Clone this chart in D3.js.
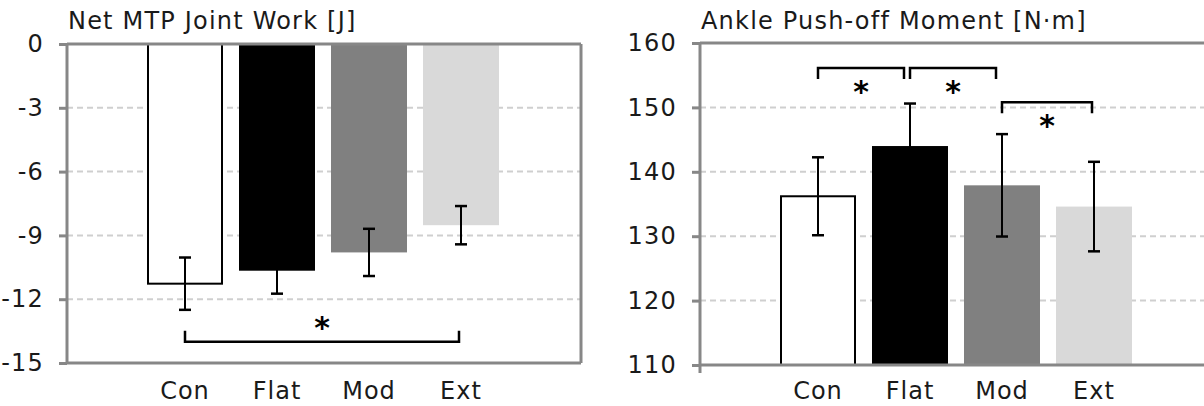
<!DOCTYPE html>
<html><head><meta charset="utf-8">
<script src="https://cdn.jsdelivr.net/npm/d3@7"></script>
<style>
html,body{margin:0;padding:0;background:#fff;}
svg{display:block;font-family:"DejaVu Sans",sans-serif;}
</style></head>
<body>
<svg id="chart" width="1204" height="406"></svg>
<script>
// ---- data ----
const categories = ["Con", "Flat", "Mod", "Ext"];
const barColors = ["#ffffff", "#000000", "#808080", "#d9d9d9"];

const workTitle = "Net MTP Joint Work [J]";
const workMeans = [-11.27, -10.66, -9.80, -8.52];
const workSD = [1.23, 1.08, 1.11, 0.90];
const workTicks = [0, -3, -6, -9, -12, -15];
const workSig = [["Con", "Ext", -14.0]];

const ankleTitle = "Ankle Push-off Moment [N·m]";
const ankleMeans = [136.2, 144.0, 137.9, 134.6];
const ankleSD = [6.05, 6.6, 7.95, 6.95];
const ankleTicks = [110, 120, 130, 140, 150, 160];
const ankleSig = [["Con", "Flat", 156.1], ["Flat", "Mod", 156.1], ["Mod", "Ext", 150.8]];

const svg = d3.select("#chart");
const frameColor = "#878787";
const textColor = "#1a1a1a";

function panel(cfg) {
  const g = svg.append("g");
  const y = d3.scaleLinear().domain(cfg.domain).range([cfg.bottom, cfg.top]);
  const x = d3.scaleBand().domain(categories)
    .range([cfg.left + 72, cfg.left + 72 + 92 * categories.length])
    .paddingInner(16 / 92).paddingOuter(8 / 92);

  // gridlines
  g.selectAll(".grid").data(cfg.ticks.filter(t => t !== cfg.domain[0] && t !== cfg.domain[1]))
    .join("line")
    .attr("x1", cfg.left).attr("x2", cfg.right)
    .attr("y1", d => y(d)).attr("y2", d => y(d))
    .attr("stroke", "#cfcfcf").attr("stroke-width", 2).attr("stroke-dasharray", "6,4");

  // bars
  const data = categories.map((c, i) => ({c, m: cfg.means[i], s: cfg.sd[i], col: barColors[i]}));
  const base = cfg.baseline;
  g.selectAll(".bar").data(data).join("rect")
    .attr("x", d => x(d.c) + (d.col === "#ffffff" ? 1 : 0))
    .attr("width", d => x.bandwidth() - (d.col === "#ffffff" ? 2 : 0))
    .attr("y", d => Math.min(y(d.m), y(base)))
    .attr("height", d => Math.abs(y(d.m) - y(base)))
    .attr("fill", d => d.col)
    .attr("stroke", d => d.col === "#ffffff" ? "#000" : "none")
    .attr("stroke-width", 2);

  // error bars
  const cx = d => x(d.c) + x.bandwidth() / 2;
  const eb = g.selectAll(".err").data(data).join("g");
  eb.append("line").attr("x1", cx).attr("x2", cx)
    .attr("y1", d => y(d.m + d.s)).attr("y2", d => y(d.m - d.s))
    .attr("stroke", "#000").attr("stroke-width", 2);
  eb.append("line").attr("x1", d => cx(d) - 6).attr("x2", d => cx(d) + 6)
    .attr("y1", d => y(d.m + d.s)).attr("y2", d => y(d.m + d.s))
    .attr("stroke", "#000").attr("stroke-width", 2.5);
  eb.append("line").attr("x1", d => cx(d) - 6).attr("x2", d => cx(d) + 6)
    .attr("y1", d => y(d.m - d.s)).attr("y2", d => y(d.m - d.s))
    .attr("stroke", "#000").attr("stroke-width", 2.5);

  // frame
  const fr = g.append("g").attr("stroke", frameColor).attr("stroke-width", 3).attr("fill", "none");
  fr.append("line").attr("x1", cfg.left).attr("x2", cfg.right).attr("y1", cfg.top).attr("y2", cfg.top);
  fr.append("line").attr("x1", cfg.left).attr("x2", cfg.right).attr("y1", cfg.bottom).attr("y2", cfg.bottom);
  fr.append("line").attr("x1", cfg.left).attr("x2", cfg.left).attr("y1", cfg.top).attr("y2", cfg.bottom + (cfg.extendBelow || 0));
  if (cfg.rightFrame) fr.append("line").attr("x1", cfg.right).attr("x2", cfg.right).attr("y1", cfg.top).attr("y2", cfg.bottom);

  // y axis ticks
  const ax = d3.axisLeft(y).tickValues(cfg.ticks).tickSize(8).tickPadding(15).tickFormat(d3.format("d"));
  const axg = g.append("g").attr("transform", `translate(${cfg.left},0)`).call(ax);
  axg.select(".domain").remove();
  axg.selectAll(".tick line").attr("stroke", frameColor).attr("stroke-width", 3);
  axg.selectAll(".tick text").attr("font-size", 24).attr("letter-spacing", 1.2).attr("fill", textColor)
    .attr("font-family", "'DejaVu Sans',sans-serif").text(d => d < 0 ? "-" + Math.abs(d) : d);

  // x labels
  g.selectAll(".xl").data(categories).join("text")
    .attr("x", d => x(d) + x.bandwidth() / 2).attr("y", 399)
    .attr("text-anchor", "middle").attr("font-size", 24).attr("letter-spacing", 1).attr("fill", textColor).text(d => d);

  // title
  g.append("text").attr("x", cfg.left + 1).attr("y", 29).attr("font-size", 24).attr("letter-spacing", 1.2)
    .attr("fill", textColor).text(cfg.title);

  // significance brackets
  cfg.sig.forEach(([a, b, v], i) => {
    const adj = cfg.sig.some(([a2, b2]) => a2 === b) ;
    const x1 = x(a) + x.bandwidth() / 2;
    const x2 = x(b) + x.bandwidth() / 2 - (adj ? 6 : 2);
    const yy = y(v);
    const leg = cfg.bracketUp ? -11 : 11;
    g.append("path")
      .attr("d", `M${x1},${yy + leg}V${yy}H${x2}V${yy + leg}`)
      .attr("fill", "none").attr("stroke", "#000").attr("stroke-width", 2.5);
    g.append("text").attr("x", (x1 + x2) / 2)
      .attr("y", cfg.bracketUp ? yy - 4 : yy + 34)
      .attr("text-anchor", "middle").attr("font-size", 30).attr("font-weight", "bold")
      .attr("font-family", "'DejaVu Sans',sans-serif").text("*");
  });
}

panel({title: workTitle, means: workMeans, sd: workSD, ticks: workTicks, sig: workSig,
  domain: [-15, 0], baseline: 0, left: 67, right: 581, top: 44, bottom: 363,
  rightFrame: true, bracketUp: true});
panel({title: ankleTitle, means: ankleMeans, sd: ankleSD, ticks: ankleTicks, sig: ankleSig,
  domain: [110, 160], baseline: 110, left: 700, right: 1210, top: 43, bottom: 365,
  rightFrame: false, bracketUp: false, extendBelow: 8});
</script>
</body></html>
